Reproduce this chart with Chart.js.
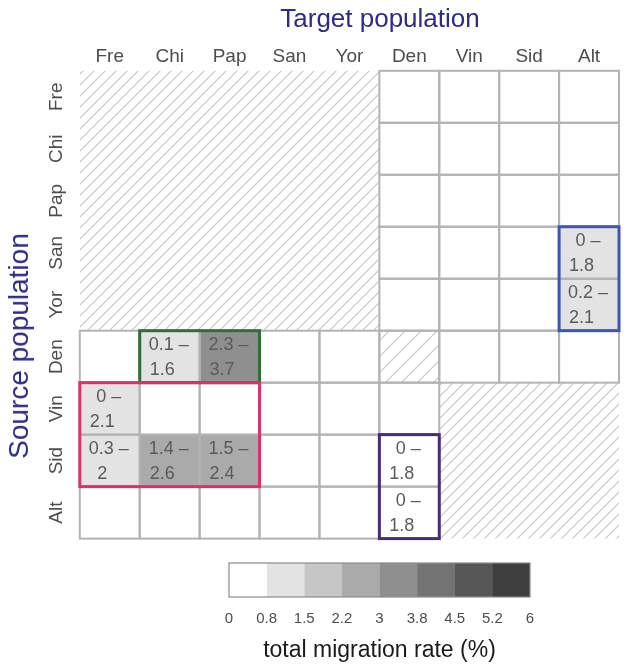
<!DOCTYPE html>
<html>
<head>
<meta charset="utf-8">
<script src="https://cdn.jsdelivr.net/npm/chart.js@4"></script>
<style>
  body { margin: 0; background: #fff; }
  #wrap { position: relative; width: 629px; height: 672px; overflow: hidden; font-family: "Liberation Sans", Arial, sans-serif; }
  #heat { position: absolute; left: 0; top: 0; }
  #key { position: absolute; left: 0; top: 545px; }
  .ttl { position: absolute; color: #2b2b88; white-space: nowrap; line-height: 1; }
  #ttlTop { left: 380px; top: 5px; font-size: 26px; transform: translateX(-50%); }
  #ttlLeft { left: 19px; top: 346px; font-size: 28px; transform: translate(-50%, -50%) rotate(-90deg); }
</style>
</head>
<body>
<div id="wrap">
  <canvas id="heat" width="629" height="556"></canvas>
  <canvas id="key" width="629" height="127"></canvas>
  <div class="ttl" id="ttlTop">Target population</div>
  <div class="ttl" id="ttlLeft">Source population</div>
</div>
<script>
const targets = ['Fre', 'Chi', 'Pap', 'San', 'Yor', 'Den', 'Vin', 'Sid', 'Alt'];
const sources = ['Fre', 'Chi', 'Pap', 'San', 'Yor', 'Den', 'Vin', 'Sid', 'Alt'];

// x = not estimated (hatched, no border), c = not estimated single cell (hatched, with border)
const hatchMask = [
    'xxxxx....',
    'xxxxx....',
    'xxxxx....',
    'xxxxx....',
    'xxxxx....',
    '.....c...',
    '......xxx',
    '......xxx',
    '......xxx',
];

// cells with an estimated migration rate (interval shown as text)
const ciSource = ['Den', 'Den', 'Vin', 'Sid', 'Sid', 'Sid', 'San', 'Yor', 'Sid', 'Alt'];
const ciTarget = ['Chi', 'Pap', 'Fre', 'Fre', 'Chi', 'Pap', 'Alt', 'Alt', 'Den', 'Den'];
const ciLow = ['0.1', '2.3', '0', '0.3', '1.4', '1.5', '0', '0.2', '0', '0'];
const ciHigh = ['1.6', '3.7', '2.1', '2', '2.6', '2.4', '1.8', '2.1', '1.8', '1.8'];
const rateEst = [1.0, 3.1, 1.0, 1.1, 2.4, 2.3, 0.9, 1.0, 0.5, 0.5];

const binEdges = [0, 0.8, 1.5, 2.2, 3, 3.8, 4.5, 5.2, 6];
const binColors = ['#ffffff', '#e3e3e3', '#c6c6c6', '#aaaaaa', '#8f8f8f', '#737373', '#575757', '#3f3f3f'];

// highlighted groups: [source, target] of the top-left and bottom-right cells
const boxFrom = [['Den', 'Chi'], ['Vin', 'Fre'], ['San', 'Alt'], ['Sid', 'Den']];
const boxTo = [['Den', 'Pap'], ['Sid', 'Pap'], ['Yor', 'Alt'], ['Alt', 'Den']];
const boxColors = ['#2f6f36', '#de2f6d', '#3c56b1', '#4b2a7c'];

const FONT = '"Liberation Sans", Arial, sans-serif';

function makeHatch(step) {
    const c = document.createElement('canvas');
    c.width = step; c.height = step;
    const g = c.getContext('2d');
    g.strokeStyle = '#c6c6c6';
    g.lineWidth = 1.1;
    g.beginPath();
    g.moveTo(-2, step + 2); g.lineTo(step + 2, -2);
    g.moveTo(-2, 2); g.lineTo(2, -2);
    g.moveTo(step - 2, step + 2); g.lineTo(step + 2, step - 2);
    g.stroke();
    return g.createPattern(c, 'repeat');
}
const hatchFine = makeHatch(11);
const hatchCoarse = makeHatch(16);

function binColor(v) {
    for (let k = 0; k < binColors.length; k++) {
        if (v >= binEdges[k] && v < binEdges[k + 1]) return binColors[k];
    }
    return binColors[binColors.length - 1];
}

const rateGrid = sources.map(() => targets.map(() => 0));
ciSource.forEach((s, i) => {
    rateGrid[sources.indexOf(s)][targets.indexOf(ciTarget[i])] = rateEst[i];
});

function cellFill(r, c) {
    const m = hatchMask[r][c];
    if (m === 'x') return hatchFine;
    if (m === 'c') return hatchCoarse;
    return binColor(rateGrid[r][c]);
}

const datasets = sources.map((s, r) => ({
    label: s,
    data: targets.map(() => [r, r + 1]),
    backgroundColor: targets.map((t, c) => cellFill(r, c)),
    borderWidth: 0,
    borderSkipped: false,
    grouped: false,
    barPercentage: 1,
    categoryPercentage: 1,
}));

const cellDecor = {
    id: 'cellDecor',
    afterDatasetsDraw(chart) {
        const {ctx, scales: {x, y}} = chart;
        const ex = c => x.getPixelForValue(c - 0.5);
        const ey = r => y.getPixelForValue(r);
        ctx.save();
        // cell borders
        ctx.strokeStyle = '#b3b3b3';
        ctx.lineWidth = 2;
        sources.forEach((s, r) => targets.forEach((t, c) => {
            if (hatchMask[r][c] === 'x') return;
            ctx.strokeRect(ex(c), ey(r), ex(c + 1) - ex(c), ey(r + 1) - ey(r));
        }));
        // interval labels
        ctx.fillStyle = '#5a5a5a';
        ctx.font = '18px ' + FONT;
        ctx.textAlign = 'center';
        ctx.textBaseline = 'middle';
        ciSource.forEach((s, i) => {
            const r = sources.indexOf(s);
            const c = targets.indexOf(ciTarget[i]);
            const xc = x.getPixelForValue(c);
            const yc = y.getPixelForValue(r + 0.5);
            ctx.fillText(ciLow[i] + ' \u2013', xc - 1, yc - 12);
            ctx.fillText(ciHigh[i], xc - 7.5, yc + 13);
        });
        // group boxes
        ctx.lineWidth = 3;
        boxFrom.forEach((from, i) => {
            const r0 = sources.indexOf(from[0]), c0 = targets.indexOf(from[1]);
            const r1 = sources.indexOf(boxTo[i][0]), c1 = targets.indexOf(boxTo[i][1]);
            ctx.strokeStyle = boxColors[i];
            ctx.strokeRect(ex(c0), ey(r0), ex(c1 + 1) - ex(c0), ey(r1 + 1) - ey(r0));
        });
        ctx.restore();
    }
};

new Chart(document.getElementById('heat'), {
    type: 'bar',
    data: { labels: targets, datasets },
    options: {
        responsive: false,
        animation: false,
        events: [],
        layout: { padding: { top: 42, left: 45, right: 10, bottom: 0 } },
        plugins: { legend: { display: false }, tooltip: { enabled: false } },
        scales: {
            x: {
                position: 'top',
                grid: { display: false, drawTicks: false },
                border: { display: false },
                ticks: { color: '#4d4d4d', font: { family: FONT, size: 19 }, padding: 3, maxRotation: 0 }
            },
            y: {
                type: 'linear',
                min: 0,
                max: 9,
                reverse: true,
                grid: { display: false, drawTicks: false },
                border: { display: false },
                afterBuildTicks: axis => { axis.ticks = sources.map((s, i) => ({ value: i + 0.5 })); },
                ticks: {
                    color: '#4d4d4d',
                    font: { family: FONT, size: 19 },
                    minRotation: 90,
                    maxRotation: 90,
                    crossAlign: 'center',
                    padding: 6,
                    autoSkip: false,
                    callback: (v, i) => sources[i]
                }
            }
        }
    },
    plugins: [cellDecor]
});

const keyOutline = {
    id: 'keyOutline',
    afterDatasetsDraw(chart) {
        const {ctx, chartArea: a} = chart;
        ctx.save();
        ctx.strokeStyle = '#8a8a8a';
        ctx.lineWidth = 1.2;
        ctx.strokeRect(a.left, a.top, a.right - a.left, a.bottom - a.top);
        ctx.restore();
    }
};

new Chart(document.getElementById('key'), {
    type: 'bar',
    data: {
        labels: [''],
        datasets: binColors.map((col, k) => ({
            label: binEdges[k] + '-' + binEdges[k + 1],
            data: [1],
            backgroundColor: col,
            borderWidth: 0,
            barPercentage: 1,
            categoryPercentage: 1
        }))
    },
    options: {
        indexAxis: 'y',
        responsive: false,
        animation: false,
        events: [],
        layout: { padding: { top: 18, left: 229, right: 99, bottom: 0 } },
        plugins: {
            legend: { display: false },
            tooltip: { enabled: false },
            title: {
                display: true,
                position: 'bottom',
                text: 'total migration rate (%)',
                color: '#1a1a1a',
                font: { family: FONT, size: 23, weight: 'normal' },
                padding: { top: -4.6, bottom: 8 }
            }
        },
        scales: {
            x: {
                type: 'linear',
                stacked: true,
                min: 0,
                max: 8,
                grid: { display: false, drawTicks: false },
                border: { display: false },
                ticks: {
                    stepSize: 1,
                    autoSkip: false,
                    maxRotation: 0,
                    padding: 13,
                    color: '#4d4d4d',
                    font: { family: FONT, size: 15 },
                    callback: v => binEdges[v]
                }
            },
            y: { stacked: true, display: false }
        }
    },
    plugins: [keyOutline]
});
</script>
</body>
</html>
